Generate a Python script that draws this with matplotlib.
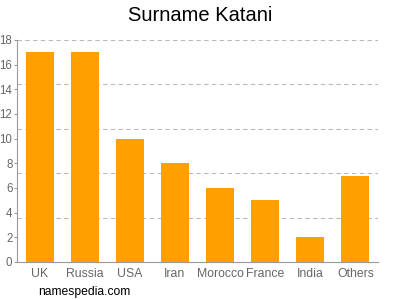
import matplotlib
matplotlib.use("Agg")
import matplotlib.pyplot as plt
import numpy as np

plt.rcParams['font.family'] = ['Liberation Sans', 'DejaVu Sans']

countries = ["UK", "Russia", "USA", "Iran", "Morocco", "France", "India", "Others"]
counts = [17, 17, 10, 8, 6, 5, 2, 7]

fig = plt.figure(figsize=(4, 3), dpi=100)
ax = fig.add_axes([0.0425, 0.1267, 0.9025, 0.74])

x = np.arange(len(countries))
ax.bar(x, counts, width=0.62, color="#ffa000", zorder=2)

ax.set_xlim(-0.5, len(countries) - 0.5)
ax.set_ylim(0, 18)
ax.set_yticks(np.arange(0, 19, 2))
ax.set_xticks(x)
ax.set_xticklabels(countries)

# grid lines are not on the tick values
for g in np.linspace(0, 18, 6)[1:]:
    ax.axhline(g, color="#bbbbbb", linestyle=(0, (4, 3)), linewidth=0.8, zorder=1)

for s in ["top", "right"]:
    ax.spines[s].set_visible(False)
ax.spines["left"].set_color("#999999")
ax.spines["bottom"].set_color("#999999")
ax.tick_params(axis="y", colors="#999999", labelcolor="#666666", labelsize=8.3, length=2.5, pad=0.8)
ax.tick_params(axis="x", colors="#999999", labelcolor="#666666", labelsize=8.8, length=0, pad=4)

fig.text(0.5, 0.948, "Surname Katani", ha="center", va="center", fontsize=14.5)
fig.text(0.095, 0.027, "namespedia.com", ha="left", va="center", fontsize=8.7)

fig.savefig("out.png", dpi=100)
